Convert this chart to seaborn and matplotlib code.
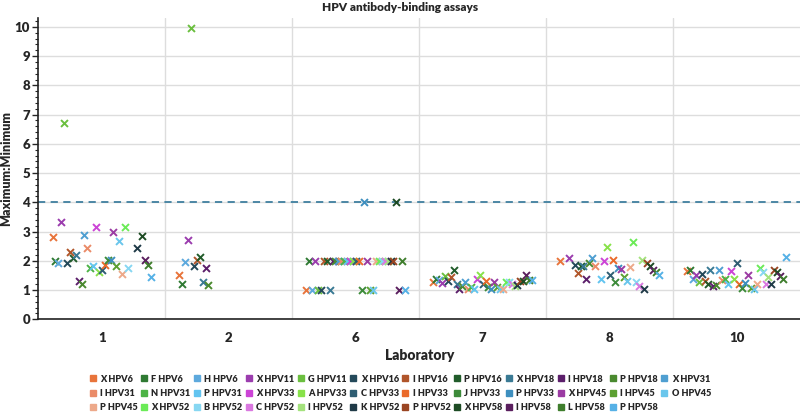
import numpy as np
import pandas as pd
import seaborn as sns
import matplotlib.pyplot as plt
from matplotlib.lines import Line2D
from matplotlib.ticker import AutoMinorLocator

# Series (assay) names and their colours
series = ['X HPV6', 'F HPV6', 'H HPV6', 'X HPV11', 'G HPV11', 'X HPV16', 'I HPV16',
          'P HPV16', 'X HPV18', 'I HPV18', 'P HPV18', 'X HPV31', 'I HPV31', 'N HPV31',
          'P HPV31', 'X HPV33', 'A HPV33', 'C HPV33', 'I HPV33', 'J HPV33', 'P HPV33',
          'X HPV45', 'I HPV45', 'O HPV45', 'P HPV45', 'X HPV52', 'B HPV52', 'C HPV52',
          'I HPV52', 'K HPV52', 'P HPV52', 'X HPV58', 'I HPV58', 'L HPV58', 'P HPV58']
colors = ['#E8743B', '#2F7A33', '#5DA9DD', '#9B3DAE', '#6BBF3F', '#24495A', '#B0552A',
          '#215C2A', '#3A7A94', '#5C1F6B', '#4A8A2F', '#4F9FD1', '#EA8B68', '#4DB346',
          '#62C4F0', '#CC44D6', '#88E24A', '#2F5E73', '#EA6A2A', '#3D8B3A', '#3E8FBF',
          '#9B3BA3', '#5CA032', '#6AC6EC', '#EDA98A', '#6BEB57', '#87D7F2', '#DA78E0',
          '#A4E27D', '#1F3A47', '#9A4522', '#1D4B24', '#5A1F5E', '#3F7E2D', '#56B1E6']

labs = ['1', '2', '6', '7', '8', '10']
N = None

# Maximum:Minimum ratio per series, one list per laboratory (same order as series)
lab1 = [2.82, 2.0, 1.91, 3.31, 6.71, 1.91, 2.31, 2.11, 2.21, 1.31, 1.2, 2.87, 2.43, 1.74,
        1.82, 3.14, 1.6, 1.69, 1.86, 2.01, 2.02, 2.97, 1.82, 2.67, 1.54, 3.17, 1.76, N,
        N, 2.45, N, 2.85, 2.01, 1.85, 1.45]
lab2 = [1.52, 1.2, 1.96, 2.71, 9.97, 1.83, 2.04, 2.13, 1.27, 1.75, 1.18, N, N, N,
        N, N, N, N, N, N, N, N, N, N, N, N, N, N,
        N, N, N, N, N, N, N]
lab6 = [1, 2, 1, 2, 1, 1, 2, 2, 1, 2, 2, 2, 2, 2,
        2, 2, 2, 2, 2, 1, 4, 2, 1, 1, 2, 2, 2, 2,
        2, 2, 2, 4, 1, 2, 1]
lab7 = [1.28, 1.36, 1.34, 1.24, 1.47, 1.3, 1.43, 1.70, 1.22, 1.05, 1.13, 1.28, 1.05, 1.12,
        1.02, 1.36, 1.53, 1.22, 1.31, 1.1, 1.05, 1.28, 1.1, 1.02, 1.05, 1.28, 1.28, 1.2,
        1.15, 1.16, 1.31, 1.3, 1.5, 1.35, 1.34]
lab8 = [1.99, N, N, 2.1, N, 1.85, 1.59, 1.82, 1.82, 1.39, 1.93, 2.1, 1.82, N,
        1.37, 2.0, 2.48, 1.53, 2.04, 1.26, 1.74, 1.71, 1.43, 1.31, 1.79, 2.65, 1.28, 1.13,
        2.04, 1.02, 1.93, 1.82, 1.68, 1.62, 1.51]
lab10 = [1.64, 1.68, 1.36, 1.53, 1.28, 1.56, 1.3, 1.19, 1.68, 1.14, 1.16, 1.7, 1.34, 1.36,
         1.22, 1.64, 1.37, 1.91, 1.19, 1.07, 1.24, 1.53, 1.07, 1.02, 1.19, 1.76, 1.62, 1.22,
         1.45, 1.22, 1.7, 1.6, 1.48, 1.36, 2.13]

threshold = 4

rows = []
for lab, vals in zip(labs, [lab1, lab2, lab6, lab7, lab8, lab10]):
    for s, v in zip(series, vals):
        if v is not None:
            rows.append({'lab': lab, 'series': s, 'ratio': v})
df = pd.DataFrame(rows)

sns.set_style('white')
plt.rcParams['font.family'] = ['Lato', 'DejaVu Sans']
plt.rcParams['font.weight'] = 'bold'

fig = plt.figure(figsize=(8, 4.13), dpi=100)
ax = fig.add_axes([0.048, 0.227, 0.952, 0.729])

ax.axhline(threshold, color='#3F7F9F', lw=1.3, ls=(0, (4, 3)), zorder=1)

sns.stripplot(data=df, x='lab', y='ratio', hue='series', order=labs,
              hue_order=series, palette=colors, dodge=True, jitter=False,
              marker='x', size=5, linewidth=1.4, edgecolor='face',
              legend=False, ax=ax, zorder=3)

ax.set_xlim(-0.5, 5.5)
ax.set_ylim(0, 10.3)
ax.set_yticks(range(0, 11))
ax.yaxis.set_minor_locator(AutoMinorLocator(5))
ax.set_xticks(np.arange(0.5, 5, 1), minor=True)
ax.grid(axis='y', which='major', color='#DDDDDD', lw=1)
ax.grid(axis='x', which='minor', color='#DDDDDD', lw=1)
ax.set_axisbelow(True)

for side in ['top', 'right']:
    ax.spines[side].set_visible(False)
for side in ['left', 'bottom']:
    ax.spines[side].set_color('#222222')
    ax.spines[side].set_linewidth(1.2)

ax.tick_params(axis='y', which='major', length=4, width=1, labelsize=9.5, direction='out',
               left=True, pad=2)
ax.tick_params(axis='y', which='minor', length=2, width=0.8, direction='out', left=True)
ax.tick_params(axis='x', which='both', length=0, labelsize=9.5, pad=9)
for lbl in ax.get_xticklabels() + ax.get_yticklabels():
    lbl.set_fontweight('heavy')

ax.set_xlabel('Laboratory', fontsize=10, fontweight='heavy', labelpad=4)
ax.set_ylabel('Maximum:Minimum', fontsize=9, fontweight='heavy')
ax.yaxis.set_label_coords(-0.035, 0.5)
fig.suptitle('HPV antibody-binding assays', fontsize=8.5, fontweight='heavy', y=0.995)

# legend laid out row by row, 12 per row
ncol = 12
order = [r * ncol + c for c in range(ncol) for r in range(3) if r * ncol + c < len(series)]
handles = [Line2D([], [], ls='none', marker='s', markersize=5, color=colors[i]) for i in order]
labels = [series[i] for i in order]
fig.legend(handles, labels, ncol=ncol, loc='lower center', bbox_to_anchor=(0.5, -0.017),
           frameon=False, prop={'size': 6.6, 'weight': 'heavy'}, handlelength=0.8,
           handletextpad=0.4, columnspacing=0.3, labelspacing=0.55)

fig.savefig('out.png', dpi=100)
